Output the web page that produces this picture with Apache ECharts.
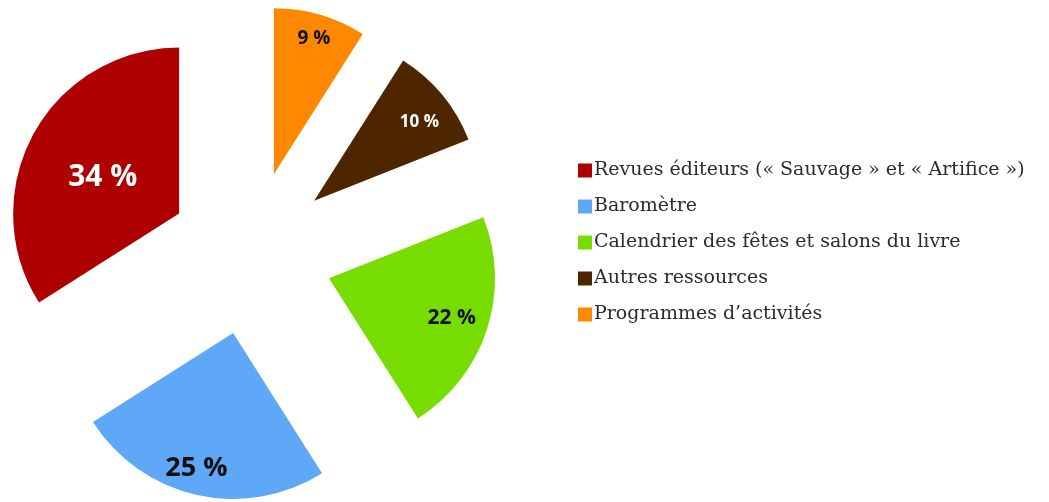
<!DOCTYPE html>
<html>
<head>
<meta charset="utf-8">
<script src="https://cdn.jsdelivr.net/npm/echarts@6/dist/echarts.min.js"></script>
<style>
  html, body { margin: 0; padding: 0; background: #fff; }
  #chart { width: 1049px; height: 502px; }
</style>
</head>
<body>
<div id="chart"></div>
<script>
// data
const categories = [
  'Revues éditeurs (« Sauvage » et « Artifice »)',
  'Baromètre',
  'Calendrier des fêtes et salons du livre',
  'Autres ressources',
  'Programmes d\u2019activités'
]
const values = [34, 25, 22, 10, 9]

// styles
const colors = ['#ae0000', '#5ea8f7', '#77dd00', '#4d2600', '#ff8800']
const labelColors = ['#fff', '#111', '#111', '#fff', '#111']
const labelSizes = [30, 27, 21, 17, 19]
const labelShift = [[-1, 5], [-18, 51], [41, 13], [39, -24], [16, -53]]

const chart = echarts.init(document.getElementById('chart'))

chart.setOption({
  animation: false,
  color: colors,
  legend: {
    orient: 'vertical',
    left: 573,
    top: 156,
    icon: 'rect',
    itemWidth: 14,
    itemHeight: 14,
    itemGap: 17,
    selectedMode: false,
    textStyle: {
      fontFamily: 'DejaVu Serif',
      fontSize: 19,
      color: '#2b2b2b',
      padding: [0, 0, 0, -3]
    },
    data: categories
  },
  series: [{
    type: 'pie',
    center: [251, 253],
    radius: 166,
    startAngle: 90,
    clockwise: false,
    selectedMode: 'multiple',
    selectedOffset: 82,
    emphasis: { disabled: true },
    select: { itemStyle: { borderWidth: 0 } },
    label: {
      position: 'inside',
      formatter: '{c} %',
      fontFamily: 'Open Sans',
      fontWeight: 'bold'
    },
    labelLayout: params => ({
      dx: labelShift[params.dataIndex][0],
      dy: labelShift[params.dataIndex][1]
    }),
    data: categories.map((name, i) => ({
      name,
      value: values[i],
      selected: true,
      label: { color: labelColors[i], fontSize: labelSizes[i] }
    }))
  }]
})
</script>
</body>
</html>
